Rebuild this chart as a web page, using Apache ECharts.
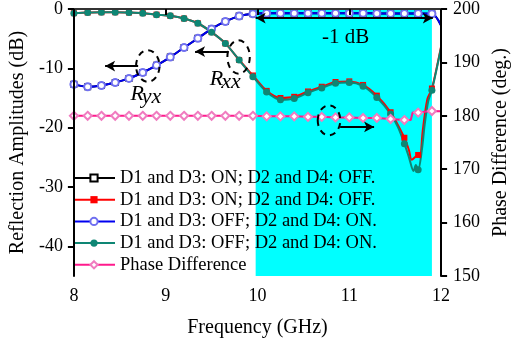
<!DOCTYPE html>
<html><head><meta charset="utf-8">
<script src="https://cdn.jsdelivr.net/npm/echarts@6/dist/echarts.min.js"></script>
<style>html,body{margin:0;padding:0;background:#fff}#c{width:519px;height:343px}</style>
</head><body><div id="c"></div>
<script>
// ---------- data ----------
const xTicks = [8, 9, 10, 11, 12];
const leftTicks = [0, -10, -20, -30, -40];
const rightTicks = [150, 160, 170, 180, 190, 200];
const seriesNames = [
  'D1 and D3: ON; D2 and D4: OFF.',
  'D1 and D3: ON; D2 and D4: OFF. ',
  'D1 and D3: OFF; D2 and D4: ON.',
  'D1 and D3: OFF; D2 and D4: ON. ',
  'Phase Difference'
];
// frequencies that carry a marker symbol
const markerFreq = [8.00, 8.15, 8.30, 8.45, 8.60, 8.75, 8.90, 9.05, 9.20, 9.35, 9.50, 9.65, 9.80, 9.95,
  10.10, 10.25, 10.40, 10.55, 10.70, 10.85, 11.00, 11.15, 11.30, 11.45, 11.60, 11.75, 11.90];

// Ryx, state ON/OFF (black, hidden under blue)
const freqBlack = [8.00, 8.15, 8.30, 8.45, 8.60, 8.75, 8.90, 9.05, 9.20, 9.35, 9.50, 9.65, 9.80, 9.95,
  10.10, 10.25, 10.40, 10.55, 10.70, 10.85, 11.00, 11.15, 11.30, 11.45, 11.60, 11.75, 11.90, 12.00];
const black = [-12.7, -13.1, -12.9, -12.4, -11.7, -10.7, -9.5, -8.1, -6.5, -4.95, -3.35, -2.1, -1.2, -0.8,
  -0.72, -0.72, -0.72, -0.72, -0.72, -0.72, -0.72, -0.72, -0.74, -0.74, -0.74, -0.76, -0.8, -2.8];

// Rxx, state ON/OFF (red)
const freqRed = [8.00, 8.15, 8.30, 8.45, 8.60, 8.75, 8.90, 9.05, 9.20, 9.35, 9.50, 9.65, 9.80, 9.95,
  10.10, 10.25, 10.40, 10.55, 10.70, 10.85, 11.00, 11.15, 11.30, 11.45, 11.60, 11.65, 11.68, 11.75,
  11.77, 11.80, 11.85, 11.90, 12.00];
const red = [-0.7, -0.6, -0.55, -0.55, -0.6, -0.7, -0.95, -1.15, -1.6, -2.4, -3.9, -5.8, -8.6, -11.2,
  -13.8, -15.0, -14.8, -13.9, -13.1, -12.3, -12.2, -12.8, -14.6, -17.4, -21.7, -23.8, -25.4, -24.6,
  -25.0, -20.5, -15.2, -13.4, -6.3];

// Ryx, state OFF/ON (blue)
const freqBlue = [8.00, 8.15, 8.30, 8.45, 8.60, 8.75, 8.90, 9.05, 9.20, 9.35, 9.50, 9.65, 9.80, 9.95,
  10.10, 10.25, 10.40, 10.55, 10.70, 10.85, 11.00, 11.15, 11.30, 11.45, 11.60, 11.75, 11.90, 12.00];
const blue = [-12.7, -13.1, -12.9, -12.4, -11.7, -10.7, -9.5, -8.1, -6.5, -4.95, -3.35, -2.1, -1.2, -0.8,
  -0.72, -0.72, -0.72, -0.72, -0.72, -0.72, -0.72, -0.72, -0.74, -0.74, -0.74, -0.76, -0.8, -2.8];

// Rxx, state OFF/ON (teal)
const freqTeal = [8.00, 8.15, 8.30, 8.45, 8.60, 8.75, 8.90, 9.05, 9.20, 9.35, 9.50, 9.65, 9.80, 9.95,
  10.10, 10.25, 10.40, 10.55, 10.70, 10.85, 11.00, 11.15, 11.30, 11.45, 11.53, 11.60, 11.65, 11.70,
  11.725, 11.75, 11.79, 11.82, 11.86, 11.90, 12.00];
const teal = [-0.7, -0.6, -0.55, -0.55, -0.6, -0.7, -0.95, -1.15, -1.6, -2.4, -3.9, -5.8, -8.6, -11.4,
  -14.0, -15.3, -15.1, -14.1, -13.3, -12.5, -12.4, -13.0, -14.9, -17.7, -19.9, -22.7, -25.0, -27.3,
  -26.3, -27.1, -23.8, -19.6, -15.5, -13.7, -6.5];

// phase difference (deg.)
const freqPhase = [8.00, 8.15, 8.30, 8.45, 8.60, 8.75, 8.90, 9.05, 9.20, 9.35, 9.50, 9.65, 9.80, 9.95,
  10.10, 10.25, 10.40, 10.55, 10.70, 10.85, 11.00, 11.15, 11.30, 11.45, 11.60, 11.67, 11.69, 11.75, 11.90, 12.00];
const phase = [180.0, 180.0, 180.0, 180.0, 180.0, 180.0, 180.0, 180.0, 180.0, 180.0, 180.0, 180.0, 180.0, 180.0,
  179.9, 179.9, 179.9, 179.8, 179.8, 179.7, 179.7, 179.6, 179.6, 179.4, 179.2, 179.2, 180.6, 180.6, 180.9, 180.85];

// -1 dB bandwidth (GHz)
const band = [9.98, 11.9];

// ---------- chart ----------
const FONT = '"Liberation Serif", "Times New Roman", serif';
const isMarker = f => markerFreq.some(m => Math.abs(m - f) < 1e-6);
const pts = (fs, vs) => fs.map((f, i) => [f, vs[i]]);
const sz = s => (v) => isMarker(v[0]) ? s : 0;

const chart = echarts.init(document.getElementById('c'), null, {renderer: 'canvas'});

const axisCommon = {
  axisLine: {show: true, lineStyle: {color: '#000', width: 2}},
  axisTick: {show: true, inside: false, length: 6, lineStyle: {color: '#000', width: 2}},
  splitLine: {show: false},
  nameTextStyle: {fontFamily: FONT, fontSize: 20, color: '#000'}
};

const arrowStyle = {color: '#000', width: 2, type: 'solid'};

const option = {
  animation: false,
  backgroundColor: '#fff',
  grid: {left: 65, right: 65, top: 9, bottom: 60, containLabel: false},
  legend: {
    orient: 'vertical', left: 72, top: 168, padding: 0,
    itemWidth: 42, itemHeight: 9, itemGap: 1.7,
    textStyle: {fontFamily: FONT, fontSize: 18.5, color: '#000', lineHeight: 20},
    data: seriesNames
  },
  xAxis: [
    Object.assign({}, axisCommon, {
      type: 'value', min: xTicks[0], max: xTicks[xTicks.length - 1], interval: 1, position: 'bottom', z: 5,
      name: 'Frequency (GHz)', nameLocation: 'middle', nameGap: 42,
      axisLabel: {fontFamily: FONT, fontSize: 18, color: '#000', margin: 11}
    }),
    {type: 'value', min: 8, max: 12, position: 'top', z: 5,
      axisLine: {show: true, lineStyle: {color: '#333', width: 2}},
      axisTick: {show: false}, axisLabel: {show: false}, splitLine: {show: false}}
  ],
  yAxis: [
    Object.assign({}, axisCommon, {
      type: 'value', min: -45, max: 0, position: 'left', z: 5,
      name: 'Reflection Amplitudes (dB)', nameLocation: 'middle', nameGap: 44, nameRotate: 90,
      axisLabel: {fontFamily: FONT, fontSize: 18, color: '#000', margin: 11, customValues: leftTicks},
      axisTick: {show: true, inside: false, length: 6, lineStyle: {color: '#000', width: 2}, customValues: leftTicks}
    }),
    Object.assign({}, axisCommon, {
      type: 'value', min: rightTicks[0], max: rightTicks[rightTicks.length - 1], interval: 10, position: 'right', z: 5,
      name: 'Phase Difference (deg.)', nameLocation: 'middle', nameGap: 44, nameRotate: 90,
      axisLabel: {fontFamily: FONT, fontSize: 18, color: '#000', margin: 12}
    })
  ],
  series: [
    {
      name: seriesNames[0], type: 'line', z: 1, yAxisIndex: 0, smooth: 0.3, showAllSymbol: true,
      data: pts(freqBlack, black),
      symbol: 'emptyRect', symbolSize: sz(5),
      lineStyle: {color: '#000', width: 2}, itemStyle: {color: '#000', borderWidth: 1},
      markArea: {silent: true, itemStyle: {color: '#00FFFF', opacity: 1},
        data: [[{xAxis: band[0]}, {xAxis: band[1]}]]}
    },
    {
      name: seriesNames[1], type: 'line', z: 3, yAxisIndex: 0, smooth: 0.3, showAllSymbol: true,
      data: pts(freqRed, red),
      symbol: 'rect', symbolSize: sz(6),
      lineStyle: {color: '#FF0000', width: 2}, itemStyle: {color: '#FF0000'}
    },
    {
      name: seriesNames[2], type: 'line', z: 3, yAxisIndex: 0, smooth: 0.3, showAllSymbol: true,
      data: pts(freqBlue, blue),
      symbol: 'emptyCircle', symbolSize: sz(7),
      lineStyle: {color: '#0000F0', width: 2}, itemStyle: {color: '#7070F0', borderWidth: 1}
    },
    {
      name: seriesNames[3], type: 'line', z: 3, yAxisIndex: 0, smooth: 0.3, showAllSymbol: true,
      data: pts(freqTeal, teal),
      symbol: 'circle', symbolSize: sz(7),
      lineStyle: {color: '#0E8674', width: 2}, itemStyle: {color: '#0E8674'},
      markLine: {
        silent: true, symbolSize: [8, 10], label: {show: false}, lineStyle: arrowStyle,
        emphasis: {disabled: true},
        data: [
          [{coord: [8.70, -9.62], symbol: 'none'}, {coord: [8.34, -9.62], symbol: 'arrow'}],
          [{coord: [9.68, -7.17], symbol: 'none'}, {coord: [9.32, -7.17], symbol: 'arrow'}],
          [{coord: [10.90, -19.87], symbol: 'none'}, {coord: [11.27, -19.87], symbol: 'arrow'}],
          [{coord: [band[0], -1.53], symbol: 'arrow'}, {coord: [11.91, -1.53], symbol: 'arrow'}]
        ]
      }
    },
    {
      name: seriesNames[4], type: 'line', z: 4, yAxisIndex: 1, smooth: false, showAllSymbol: true,
      data: pts(freqPhase, phase),
      symbol: 'emptyDiamond', symbolSize: sz(8),
      lineStyle: {color: '#FF1A8C', width: 2}, itemStyle: {color: '#F07CC0', borderWidth: 1}
    }
  ]
};
chart.setOption(option);

// ---------- annotations (placed through the axes) ----------
const P = (x, y) => chart.convertToPixel({xAxisIndex: 0, yAxisIndex: 0}, [x, y]);
const ell = (x, y, rx, ry) => {
  const p = P(x, y);
  return {type: 'ellipse', z: 10, silent: true, shape: {cx: p[0], cy: p[1], rx: rx, ry: ry},
    style: {fill: null, stroke: '#000', lineWidth: 2, lineDash: [6, 5]}};
};
const txt = (x, y, s, font, align) => {
  const p = P(x, y);
  return {type: 'text', z: 10, silent: true, x: p[0], y: p[1],
    style: {text: s, font: font, fill: '#000', align: align || 'left', verticalAlign: 'middle'}};
};
const IT = 'italic 22px "Liberation Serif"';
chart.setOption({
  graphic: [
    ell(8.805, -9.61, 11.7, 15.8),
    ell(9.794, -8.10, 11.2, 16.7),
    ell(10.779, -18.77, 11.3, 15),
    txt(8.617, -14.4, 'R', IT),
    txt(8.740, -14.86, 'yx', IT),
    txt(9.481, -11.77, 'R', IT),
    txt(9.604, -12.35, 'xx', IT),
    txt(10.961, -4.76, '-1 dB', '21px "Liberation Serif"', 'center')
  ]
});
</script>
</body></html>
